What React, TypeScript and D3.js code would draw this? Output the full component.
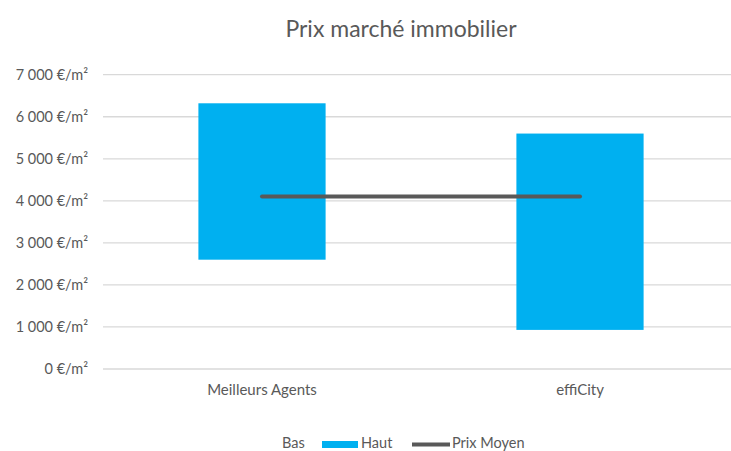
import React from "react";
import * as d3 from "d3";

const categories = ["Meilleurs Agents", "effiCity"];
const bas = [2600, 930];
const haut = [3720, 4670];
const prixMoyen = [4100, 4100];
const yTicks = [0, 1000, 2000, 3000, 4000, 5000, 6000, 7000];

const W = 731;
const H = 451;
const font = "Lato, 'Open Sans', sans-serif";
const textColor = "#595959";

export default function App() {
  const x = d3.scaleBand<string>().domain(categories).range([103, 739]).paddingInner(0.6).paddingOuter(0.3);
  const y = d3.scaleLinear().domain([0, 7000]).range([369, 74.7]);
  const fmt = (v: number) => (v === 0 ? "0" : d3.format(",")(v).replace(/,/g, "\u202f")) + " €/m²";
  const lineGen = d3
    .line<number>()
    .x((_, i) => (x(categories[i]) as number) + x.bandwidth() / 2)
    .y((d) => y(d));

  return (
    <svg width={W} height={H} style={{ position: "absolute", left: 0, top: 0, background: "#fff" }}>
      <rect width={W} height={H} fill="#fff" />
      <text x={401} y={37} textAnchor="middle" fontFamily={font} fontSize={23} fill={textColor}>
        Prix marché immobilier
      </text>
      {yTicks.map((t) => (
        <g key={t}>
          <line x1={103} x2={739} y1={y(t)} y2={y(t)} stroke="#d9d9d9" strokeWidth={1.3} />
          <text x={88} y={y(t)} dy="0.35em" textAnchor="end" fontFamily={font} fontSize={14.5} fill={textColor}>
            {fmt(t)}
          </text>
        </g>
      ))}
      {categories.map((c, i) => (
        <g key={c}>
          <rect
            x={x(c)}
            width={x.bandwidth()}
            y={y(bas[i] + haut[i])}
            height={y(bas[i]) - y(bas[i] + haut[i])}
            fill="#00B0F0"
          />
          <text
            x={(x(c) as number) + x.bandwidth() / 2}
            y={395}
            textAnchor="middle"
            fontFamily={font}
            fontSize={15}
            fill={textColor}
          >
            {c}
          </text>
        </g>
      ))}
      <path d={lineGen(prixMoyen) || ""} fill="none" stroke="#595959" strokeWidth={4} strokeLinecap="round" />
      <g fontFamily={font} fontSize={14.5} fill={textColor}>
        <text x={282} y={448}>Bas</text>
        <rect x={322} y={441} width={36} height={7} fill="#00B0F0" />
        <text x={361} y={448}>Haut</text>
        <line x1={412} x2={450} y1={444.5} y2={444.5} stroke="#595959" strokeWidth={4} />
        <text x={452} y={448}>Prix Moyen</text>
      </g>
    </svg>
  );
}
